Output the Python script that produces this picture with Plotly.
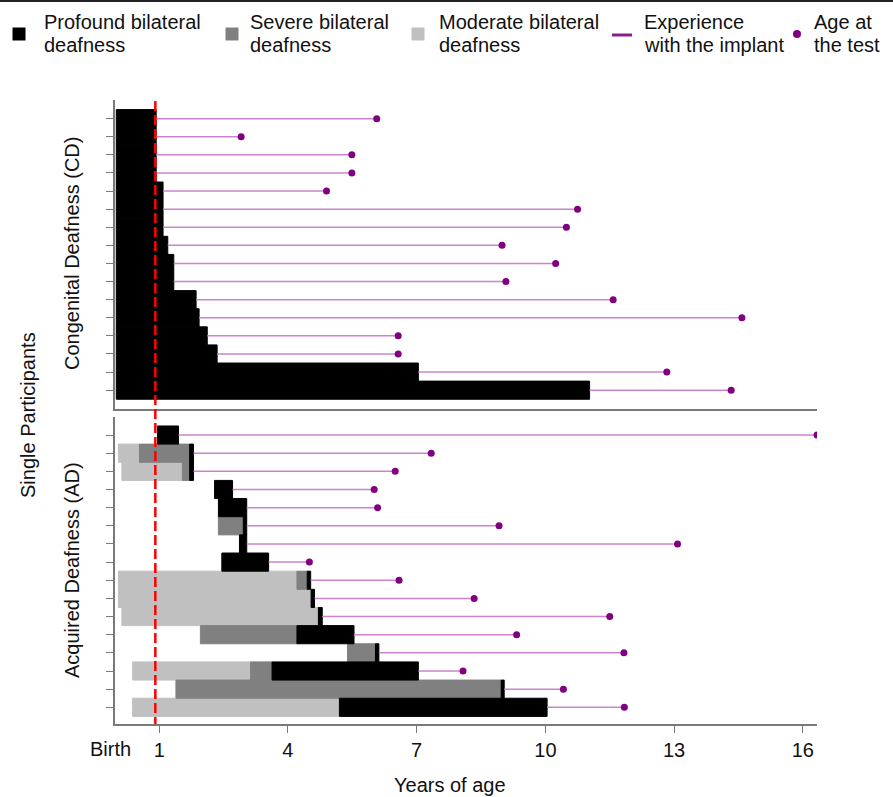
import plotly.graph_objects as go

W, H = 893, 797

# ---------------- data (years of age) ----------------
rows = list(range(1, 17))

# Congenital deafness: profound from birth until implantation
cd_profound = [0] * 16
cd_implant = [0.93, 0.93, 0.93, 0.93, 1.09, 1.09, 1.09, 1.20,
              1.34, 1.34, 1.86, 1.93, 2.12, 2.35, 7.04, 11.03]
cd_test = [6.07, 2.91, 5.49, 5.49, 4.90, 10.75, 10.49, 8.99,
           10.24, 9.08, 11.58, 14.58, 6.57, 6.57, 12.83, 14.33]

# Acquired deafness: onset of each degree, implantation, test
ad_moderate = [None, 0.05, 0.13, None, None, None, None, None,
               0.05, 0.05, 0.13, None, None, 0.38, None, 0.38]
ad_severe = [None, 0.54, 1.54, None, None, 2.38, None, None,
             4.21, None, None, 1.96, 5.39, 3.13, 1.39, None]
ad_profound = [0.96, 1.71, 1.71, 2.29, 2.38, 2.96, 2.87, 2.46,
               4.45, 4.54, 4.71, 4.21, 6.04, 3.63, 8.97, 5.20]
ad_implant = [1.45, 1.80, 1.80, 2.71, 3.04, 3.04, 3.04, 3.55,
              4.53, 4.62, 4.80, 5.54, 6.12, 7.04, 9.04, 10.04]
ad_test = [16.33, 7.34, 6.50, 6.01, 6.09, 8.92, 13.08, 4.50,
           6.59, 8.34, 11.50, 9.33, 11.83, 8.08, 10.42, 11.84]

x_tick_vals = [1, 4, 7, 10, 13, 16]
x_tick_text = ["1", "4", "7", "10", "13", "16"]
implant_norm_age = 0.91

legend_labels = [["Profound bilateral", "deafness"],
                 ["Severe bilateral", "deafness"],
                 ["Moderate bilateral", "deafness"],
                 ["Experience", "with the implant"],
                 ["Age at", "the test"]]

# ---------------- styles ----------------
C_PROF = "#000000"
C_SEV = "#808080"
C_MOD = "#C0C0C0"
C_LINE = "#CB85CB"
C_DOT = "#800080"
AX = "#7A7A7A"
FONT = "Liberation Sans, Arial, sans-serif"


def py(p):
    return 1 - p / H


def pxx(p):
    return p / W


fig = go.Figure()


def add_group(xa, ya, moderate, severe, profound, implant, test):
    segs = {C_MOD: ([], [], []), C_SEV: ([], [], []), C_PROF: ([], [], [])}
    for i, r in enumerate(rows):
        if moderate[i] is not None:
            end = severe[i] if severe[i] is not None else profound[i]
            segs[C_MOD][0].append(r); segs[C_MOD][1].append(moderate[i]); segs[C_MOD][2].append(end - moderate[i])
        if severe[i] is not None:
            segs[C_SEV][0].append(r); segs[C_SEV][1].append(severe[i]); segs[C_SEV][2].append(profound[i] - severe[i])
        segs[C_PROF][0].append(r); segs[C_PROF][1].append(profound[i]); segs[C_PROF][2].append(implant[i] - profound[i])
    for col, (yy, base, length) in segs.items():
        if not yy:
            continue
        fig.add_trace(go.Bar(orientation="h", y=yy, x=length, base=base, width=1,
                             marker=dict(color=col, line=dict(width=1, color=col)),
                             xaxis=xa, yaxis=ya, showlegend=False, hoverinfo="skip"))
    lx, ly = [], []
    for i, r in enumerate(rows):
        lx += [implant[i], test[i], None]
        ly += [r, r, None]
    fig.add_trace(go.Scatter(x=lx, y=ly, mode="lines", line=dict(color=C_LINE, width=1.5),
                             xaxis=xa, yaxis=ya, showlegend=False, hoverinfo="skip"))
    fig.add_trace(go.Scatter(x=test, y=rows, mode="markers",
                             marker=dict(color=C_DOT, size=7, line=dict(width=0)),
                             xaxis=xa, yaxis=ya, showlegend=False, hoverinfo="skip"))


add_group("x", "y", [None] * 16, [None] * 16, cd_profound, cd_implant, cd_test)
add_group("x2", "y2", ad_moderate, ad_severe, ad_profound, ad_implant, ad_test)

xdom = [pxx(115), pxx(817)]
xr = [-0.03, 16.33]
common_y = dict(tickvals=rows, ticks="outside", ticklen=7, tickcolor=AX, tickwidth=1,
                showticklabels=False, showline=True, linecolor=AX, linewidth=1.5,
                showgrid=False, zeroline=False)

fig.update_layout(
    width=W, height=H, margin=dict(l=0, r=0, t=0, b=0),
    paper_bgcolor="white", plot_bgcolor="white", barmode="overlay",
    font=dict(family=FONT, size=20, color="#111"),
    xaxis=dict(domain=xdom, range=xr, anchor="y", showline=True, linecolor=AX, linewidth=1.5,
               ticks="", showticklabels=False, showgrid=False, zeroline=False),
    yaxis=dict(domain=[py(409), py(100)], range=[17.04, -0.03], anchor="x", **common_y),
    xaxis2=dict(domain=xdom, range=xr, anchor="y2", showline=True, linecolor=AX, linewidth=1.5,
                tickvals=x_tick_vals, ticktext=x_tick_text, ticks="outside", ticklen=7,
                tickcolor=AX, tickwidth=1, tickfont=dict(size=20, family=FONT, color="#111"),
                ticklabelstandoff=0, showgrid=False, zeroline=False),
    yaxis2=dict(domain=[py(724), py(416.7)], range=[16.92, -0.01], anchor="x2", **common_y),
)

shapes = []
# top border line
shapes.append(dict(type="line", xref="paper", yref="paper", x0=0, x1=1, y0=py(1), y1=py(1),
                   line=dict(color="#222", width=2)))
# red dashed line at implant age norm
shapes.append(dict(type="line", xref="x", yref="paper", x0=implant_norm_age, x1=implant_norm_age,
                   y0=py(101), y1=py(724), line=dict(color="#FF0000", width=2.5, dash="10px,4px"),
                   layer="above"))

# legend symbols
sq = 6.5
for cx, col in [(19, C_PROF), (232, C_SEV), (418, C_MOD)]:
    shapes.append(dict(type="rect", xref="paper", yref="paper",
                       x0=pxx(cx - sq), x1=pxx(cx + sq), y0=py(34 + sq), y1=py(34 - sq),
                       fillcolor=col, line=dict(width=0)))
shapes.append(dict(type="line", xref="paper", yref="paper", x0=pxx(612), x1=pxx(632),
                   y0=py(35), y1=py(35), line=dict(color="#8A1E8A", width=3)))
shapes.append(dict(type="circle", xref="paper", yref="paper", x0=pxx(793), x1=pxx(801),
                   y0=py(30), y1=py(38), fillcolor=C_DOT, line=dict(width=0)))
fig.update_layout(shapes=shapes)

ann = []
for left, (l1, l2) in zip([42, 248, 437, 642, 812], legend_labels):
    for txt, yy in [(l1, 22), (l2, 45)]:
        ann.append(dict(text=txt, xref="paper", yref="paper", x=pxx(left), y=py(yy),
                        xanchor="left", yanchor="middle", showarrow=False,
                        font=dict(size=20, family=FONT, color="#111")))
ann.append(dict(text="Single Participants", xref="paper", yref="paper", x=pxx(28), y=py(415),
                textangle=-90, showarrow=False, xanchor="center", yanchor="middle",
                font=dict(size=20, family=FONT, color="#111")))
ann.append(dict(text="Congenital Deafness (CD)", xref="paper", yref="paper", x=pxx(72), y=py(254),
                textangle=-90, showarrow=False, xanchor="center", yanchor="middle",
                font=dict(size=20, family=FONT, color="#111")))
ann.append(dict(text="Acquired Deafness (AD)", xref="paper", yref="paper", x=pxx(72), y=py(570),
                textangle=-90, showarrow=False, xanchor="center", yanchor="middle",
                font=dict(size=20, family=FONT, color="#111")))
ann.append(dict(text="Birth", xref="paper", yref="paper", x=pxx(110), y=py(749),
                showarrow=False, xanchor="center", yanchor="middle",
                font=dict(size=20, family=FONT, color="#111")))
ann.append(dict(text="Years of age", xref="paper", yref="paper", x=pxx(450), y=py(785),
                showarrow=False, xanchor="center", yanchor="middle",
                font=dict(size=20, family=FONT, color="#111")))
fig.update_layout(annotations=ann)

fig.write_html("out.html")
